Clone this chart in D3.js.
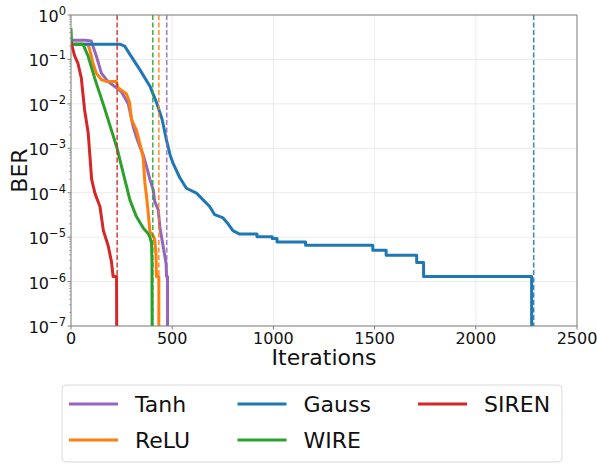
<!DOCTYPE html>
<meta charset="utf-8">
<head>
  <title>BER vs iterations</title>
  <script src="https://cdnjs.cloudflare.com/ajax/libs/d3/7.8.5/d3.min.js"></script>
  <style>
    body { margin: 0; background: #fff; }
    svg { font-family: "DejaVu Sans", sans-serif; }
  </style>
</head>
<body>
<svg></svg>
<script>
// [iteration, BER]
var tanh = [[0,0.27],[70,0.27],[100,0.26],[125,0.12],[150,0.049],[182,0.032],[224,0.023],[248,0.019],
  [273,0.012],[283,0.01],[307,0.0031],[323,0.0018],[340,0.0011],[357,0.0007],[373,0.00039],[390,0.0002],
  [406,0.000117],[414,6.3e-5],[431,4.1e-5],[439,1.7e-5],[455,6.3e-6],[464,3.6e-6],[470,2.5e-6],
  [472,1.3e-6],[477,1.3e-6],[477,1e-9]];
var relu = [[0,0.22],[84,0.22],[95,0.15],[108,0.083],[125,0.049],[150,0.035],[174,0.032],[224,0.032],
  [232,0.023],[273,0.017],[289,0.011],[299,0.0044],[323,0.0026],[348,0.00093],[357,0.0006],[365,0.000166],
  [373,8.5e-5],[380,4.1e-5],[390,1.3e-5],[406,1.07e-5],[414,8.7e-6],[420,4e-6],[422,1.3e-6],
  [434,1.3e-6],[434,1e-9]];
var gauss = [[0,0.22],[241,0.22],[265,0.2],[291,0.13],[340,0.059],[390,0.025],[425,0.01],[450,0.0045],
  [472,0.0015],[490,0.0007],[505,0.00045],[537,0.00022],[570,0.000126],[620,9.8e-5],[685,4.9e-5],
  [710,3.2e-5],[751,2.7e-5],[776,2.0e-5],[800,1.4e-5],[833,1.17e-5],[919,1.17e-5],[919,1.02e-5],
  [994,1.02e-5],[994,9.3e-6],[1018,9.3e-6],[1018,7.8e-6],[1159,7.8e-6],[1159,6.6e-6],[1491,6.6e-6],
  [1491,5.1e-6],[1557,5.1e-6],[1557,3.9e-6],[1708,3.9e-6],[1708,2.7e-6],[1742,2.7e-6],[1742,1.3e-6],
  [2276,1.3e-6],[2276,1e-9]];
var wire = [[0,0.5],[3,0.22],[59,0.22],[84,0.12],[117,0.038],[166,0.0079],[225,0.0011],[291,6.9e-5],
  [323,2.9e-5],[357,1.6e-5],[381,1.2e-5],[390,1.0e-5],[398,7.2e-6],[400,3e-6],[402,1e-9]];
var siren = [[0,0.25],[5,0.2],[18,0.12],[34,0.083],[51,0.038],[67,0.0074],[85,0.0022],[102,0.0002],
  [118,9.8e-5],[143,4.9e-5],[160,1.4e-5],[184,6.3e-6],[200,2.8e-6],[208,1.3e-6],[225,1.3e-6],[227,1e-9]];

var names = ["Tanh", "ReLU", "Gauss", "WIRE", "SIREN"];
var series = [tanh, relu, gauss, wire, siren];
var colors = ["#9467bd", "#ff7f0e", "#1f77b4", "#2ca02c", "#d62728"];
// iteration where each run converged (dashed markers)
var converged = [473, 434, 2286, 404, 228];

var xTicks = [0, 500, 1000, 1500, 2000, 2500];
var yExps = [0, -1, -2, -3, -4, -5, -6, -7];

var margin = {top: 15, right: 20, bottom: 138, left: 71};
var W = 597, H = 464;
var width = W - margin.left - margin.right;   // 506
var height = H - margin.top - margin.bottom;  // 311

var svg = d3.select("svg").attr("width", W).attr("height", H);
var g = svg.append("g").attr("transform", "translate(" + margin.left + "," + margin.top + ")");

var x = d3.scaleLinear().domain([0, 2500]).range([0, width]);
var y = d3.scaleLog().domain([1e-7, 1]).range([height, 0]);

// grid
g.selectAll(".gx").data(xTicks).enter().append("line")
  .attr("x1", d => x(d)).attr("x2", d => x(d)).attr("y1", 0).attr("y2", height)
  .style("stroke", "#b0b0b0").style("stroke-opacity", 0.3).style("stroke-width", 0.8);
g.selectAll(".gy").data(yExps).enter().append("line")
  .attr("x1", 0).attr("x2", width).attr("y1", d => y(Math.pow(10, d))).attr("y2", d => y(Math.pow(10, d)))
  .style("stroke", "#b0b0b0").style("stroke-opacity", 0.3).style("stroke-width", 0.8);

g.append("clipPath").attr("id", "clip").append("rect")
  .attr("x", 0).attr("y", 0).attr("width", width).attr("height", height);

var line = d3.line().x(d => x(d[0])).y(d => y(Math.max(d[1], 1e-9)));

var plot = g.append("g").attr("clip-path", "url(#clip)");
series.forEach(function(s, i) {
  plot.append("path").datum(s).attr("d", line)
    .style("fill", "none").style("stroke", colors[i]).style("stroke-width", 3)
    .style("stroke-linejoin", "round");
});
converged.forEach(function(c, i) {
  plot.append("line")
    .attr("x1", x(c)).attr("x2", x(c)).attr("y1", 0).attr("y2", height)
    .style("stroke", colors[i]).style("stroke-opacity", 0.85).style("stroke-width", 1.6)
    .style("stroke-dasharray", "5,2.5");
});

// spines
g.append("rect").attr("width", width).attr("height", height)
  .style("fill", "none").style("stroke", "#808080").style("stroke-width", 1);

// x axis
var xAxis = g.append("g").attr("transform", "translate(0," + height + ")");
xAxis.selectAll("line").data(xTicks).enter().append("line")
  .attr("x1", d => x(d)).attr("x2", d => x(d)).attr("y1", 0).attr("y2", 3.5)
  .style("stroke", "#808080");
xAxis.selectAll("text").data(xTicks).enter().append("text")
  .attr("x", d => x(d)).attr("y", 18).style("text-anchor", "middle")
  .style("font-size", "16px").style("fill", "#111").text(d => d);

// y axis, log minor ticks
var minor = [];
yExps.slice(1).forEach(function(e) {
  for (var k = 2; k <= 9; k++) minor.push(k * Math.pow(10, e));
});
var yAxis = g.append("g");
yAxis.selectAll(".mn").data(minor).enter().append("line")
  .attr("x1", -2).attr("x2", 0).attr("y1", d => y(d)).attr("y2", d => y(d))
  .style("stroke", "#808080").style("stroke-width", 0.6);
yAxis.selectAll(".mj").data(yExps).enter().append("line")
  .attr("x1", -3.5).attr("x2", 0).attr("y1", d => y(Math.pow(10, d))).attr("y2", d => y(Math.pow(10, d)))
  .style("stroke", "#808080");
var yl = yAxis.selectAll(".yl").data(yExps).enter().append("text")
  .attr("x", -5).attr("y", d => y(Math.pow(10, d)) + 7)
  .style("text-anchor", "end").style("font-size", "16px").style("fill", "#111");
yl.append("tspan").text("10");
yl.append("tspan").attr("dy", -7).style("font-size", "11.5px")
  .text(d => d === 0 ? "0" : "\u2212" + (-d));

// axis labels
svg.append("text").attr("x", margin.left + width / 2).attr("y", 365)
  .style("text-anchor", "middle").style("font-size", "22px").style("fill", "#111").text("Iterations");
svg.append("text").attr("transform", "translate(27," + (margin.top + height / 2) + ") rotate(-90)")
  .style("text-anchor", "middle").style("font-size", "22px").style("fill", "#111").text("BER");

// legend, column-major like matplotlib
var legend = svg.append("g");
legend.append("rect").attr("x", 62).attr("y", 385).attr("width", 500).attr("height", 77)
  .attr("rx", 4).style("fill", "#fff").style("stroke", "#d9d9d9").style("stroke-width", 1);
var colX = [69, 237.5, 418];
var rowY = [404, 440];
names.forEach(function(n, i) {
  var cx = colX[Math.floor(i / 2)], cy = rowY[i % 2];
  legend.append("line").attr("x1", cx).attr("x2", cx + 49).attr("y1", cy).attr("y2", cy)
    .style("stroke", colors[i]).style("stroke-width", 3);
  legend.append("text").attr("x", cx + 66).attr("y", cy + 8)
    .style("font-size", "22px").style("fill", "#111").text(n);
});
</script>
</body>
